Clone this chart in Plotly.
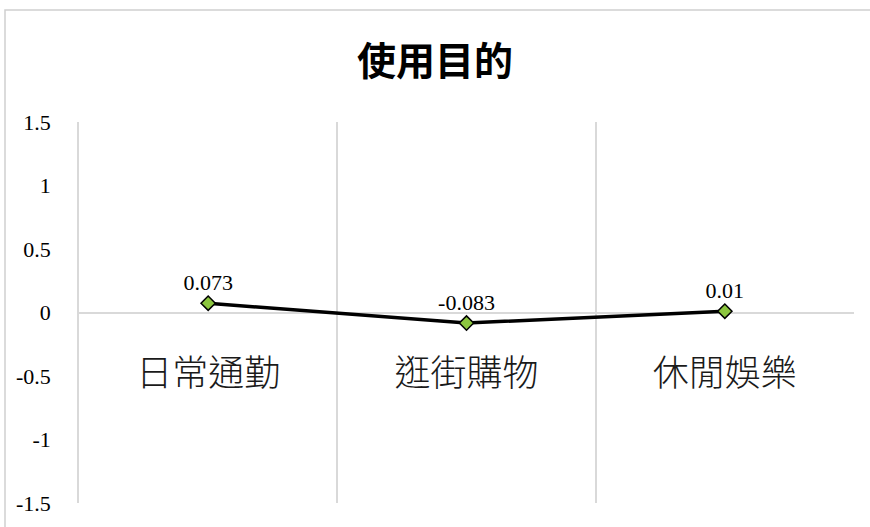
import plotly.graph_objects as go

# Mean scores by purpose of use
categories = ["日常通勤", "逛街購物", "休閒娛樂"]
values = [0.073, -0.083, 0.01]
value_labels = ["0.073", "-0.083", "0.01"]
y_ticks = [-1.5, -1, -0.5, 0, 0.5, 1, 1.5]
y_tick_labels = ["-1.5", "-1", "-0.5", "0", "0.5", "1", "1.5"]

W, H = 870, 527
L, R, T, B = 79, 16, 122, 24
plot_w = W - L - R
plot_h = H - T - B

grid = "#d9d9d9"
serif = "'Times New Roman', 'Liberation Serif', serif"
cjk = "Noto Sans CJK TC"

fig = go.Figure()
fig.add_trace(go.Scatter(
    x=categories,
    y=values,
    mode="lines+markers+text",
    line=dict(color="black", width=3.5),
    marker=dict(symbol="diamond", size=11, color="#8cc63f",
                line=dict(color="black", width=1.5)),
    text=value_labels,
    textposition="top center",
    textfont=dict(family=serif, size=22, color="black"),
    cliponaxis=False,
    showlegend=False,
))

def px_x(p):
    return (p - L) / plot_w

def px_y(p):
    return (H - B - p) / plot_h

fig.update_layout(
    width=W, height=H,
    margin=dict(l=L, r=R, t=T, b=B, pad=0),
    paper_bgcolor="white",
    plot_bgcolor="white",
    title=dict(text="<b>使用目的</b>", x=0.5, xanchor="center",
               y=1 - 61 / H, yanchor="middle", yref="container",
               font=dict(family=cjk, size=39, color="black")),
    xaxis=dict(
        type="category",
        range=[-0.5, 2.5],
        tickson="boundaries",
        showgrid=True, gridcolor=grid, gridwidth=1.5,
        showline=False,
        ticks="",
        anchor="free", position=0.5,
        tickfont=dict(family=cjk, size=36, color="#1a1a1a", weight=300),
        ticklabelstandoff=36,
        zeroline=False,
    ),
    yaxis=dict(
        range=[-1.5, 1.5],
        tickvals=y_ticks, ticktext=y_tick_labels,
        showgrid=False,
        zeroline=True, zerolinecolor=grid, zerolinewidth=1.5,
        showline=True, linecolor=grid, linewidth=1.5,
        ticks="",
        ticklabelstandoff=22,
        tickfont=dict(family=serif, size=22, color="black"),
    ),
    shapes=[dict(type="rect", xref="paper", yref="paper",
                 x0=px_x(5), x1=px_x(880), y0=px_y(540), y1=px_y(10),
                 line=dict(color="#d0d0d0", width=1.5), layer="below")],
)

fig.write_html("out.html")
